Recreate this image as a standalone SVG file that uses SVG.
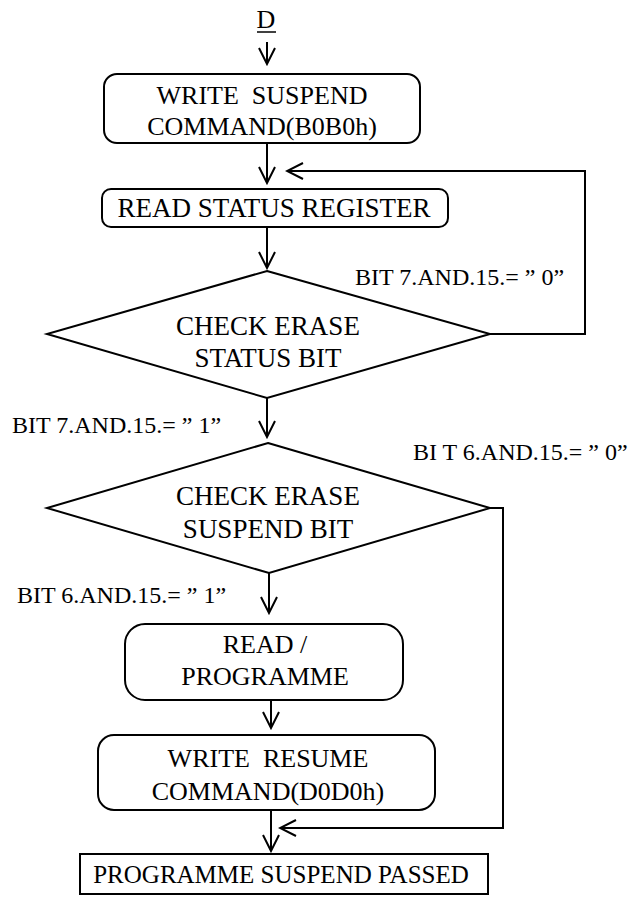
<svg xmlns="http://www.w3.org/2000/svg" width="644" height="898" viewBox="0 0 644 898">
<style>
.s{fill:none;stroke:#000;stroke-width:2}
.b{fill:#fff;stroke:#000;stroke-width:2}
.t{font-family:"Liberation Serif","Times New Roman",serif;font-size:26px;fill:#000;text-anchor:middle}
.t27{font-size:27px}
.t25{font-size:25px}
.l{font-family:"Liberation Serif","Times New Roman",serif;font-size:24px;fill:#000}
</style>
<defs>
<marker id="ah" viewBox="-18 -10 20 20" markerWidth="20" markerHeight="20" refX="0" refY="0" orient="auto" markerUnits="userSpaceOnUse">
<path d="M-16,-8 L0,0 L-16,8" fill="none" stroke="#000" stroke-width="2"/>
</marker>
</defs>
<rect width="644" height="898" fill="#fff"/>
<g id="start">
<text class="t" x="266" y="28">D</text>
<line x1="257" y1="32" x2="276" y2="32" stroke="#000" stroke-width="1.5"/>
</g>
<g id="n1">
<rect class="b" x="104" y="74" width="316" height="69" rx="13"/>
<text class="t" x="262" y="104" xml:space="preserve">WRITE  SUSPEND</text>
<text class="t" x="262" y="135">COMMAND(B0B0h)</text>
</g>
<g id="n2">
<rect class="b" x="102" y="189" width="346" height="38" rx="9"/>
<text class="t t27" x="274" y="217">READ STATUS REGISTER</text>
</g>
<g id="d1">
<polygon class="b" points="267,271 490,334 267,398 47,334"/>
<text class="t t27" x="268" y="335">CHECK ERASE</text>
<text class="t t27" x="268" y="367">STATUS BIT</text>
</g>
<g id="d2">
<polygon class="b" points="268,443 490,508 269,573 47,508"/>
<text class="t t27" x="268" y="505">CHECK ERASE</text>
<text class="t t27" x="268" y="538">SUSPEND BIT</text>
</g>
<g id="n3">
<rect class="b" x="125" y="624" width="278" height="76" rx="20"/>
<text class="t" x="265" y="653">READ /</text>
<text class="t" x="265" y="685">PROGRAMME</text>
</g>
<g id="n4">
<rect class="b" x="98" y="735" width="337" height="75" rx="16"/>
<text class="t" x="268" y="767" xml:space="preserve">WRITE  RESUME</text>
<text class="t" x="268" y="800">COMMAND(D0D0h)</text>
</g>
<g id="n5">
<rect class="b" x="80" y="854" width="408" height="40"/>
<text class="t t25" x="281" y="883">PROGRAMME SUSPEND PASSED</text>
</g>
<g id="labels">
<text class="l" x="355" y="285">BIT 7.AND.15.= ” 0”</text>
<text class="l" x="12" y="433">BIT 7.AND.15.= ” 1”</text>
<text class="l" x="413" y="460">BI T 6.AND.15.= ” 0”</text>
<text class="l" x="17" y="603">BIT 6.AND.15.= ” 1”</text>
</g>
<g id="connectors">
<line class="s" x1="267" y1="42" x2="267" y2="64" marker-end="url(#ah)"/>
<line class="s" x1="267" y1="143" x2="267" y2="183" marker-end="url(#ah)"/>
<polyline class="s" points="490,334 585,334 585,171 287,171" marker-end="url(#ah)"/>
<line class="s" x1="267" y1="227" x2="267" y2="268" marker-end="url(#ah)"/>
<line class="s" x1="267" y1="398" x2="267" y2="437" marker-end="url(#ah)"/>
<line class="s" x1="269" y1="573" x2="269" y2="613" marker-end="url(#ah)"/>
<line class="s" x1="271" y1="700" x2="271" y2="728" marker-end="url(#ah)"/>
<line class="s" x1="271" y1="810" x2="271" y2="851" marker-end="url(#ah)"/>
<polyline class="s" points="490,508 503,508 503,828 280,828" marker-end="url(#ah)"/>
</g>
</svg>
